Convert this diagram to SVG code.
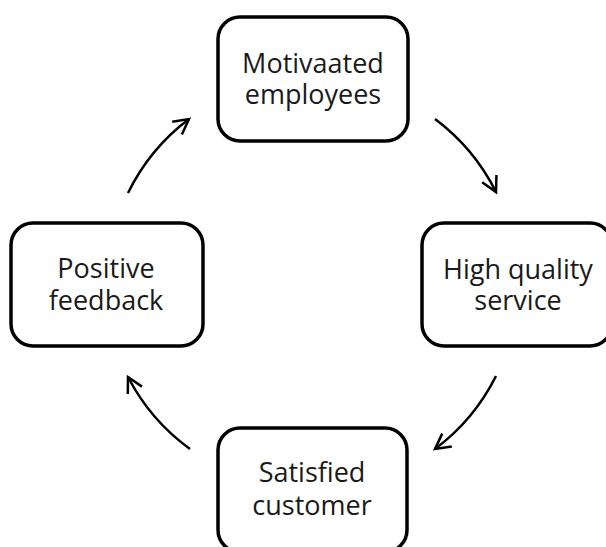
<svg xmlns="http://www.w3.org/2000/svg" width="606" height="547" viewBox="0 0 606 547">
<style>
.box{fill:#fff;stroke:#000;stroke-width:3.5}
.lbl{font-family:"Open Sans","Liberation Sans",sans-serif;font-size:27px;fill:#1a1a1a;text-anchor:middle}
.arc{fill:none;stroke:#000;stroke-width:2.5}
</style>
<defs>
<marker id="ah" markerUnits="userSpaceOnUse" markerWidth="22" markerHeight="22" refX="17" refY="11" orient="auto">
<path d="M2,3 L17,11 L2,19" fill="none" stroke="#000" stroke-width="2.5"/>
</marker>
</defs>
<rect width="606" height="547" fill="#fff"/>
<g id="connectors">
<path class="arc" marker-end="url(#ah)" d="M435,119 A206,206 0 0 1 496,192"/>
<path class="arc" marker-end="url(#ah)" d="M496,376 A206,206 0 0 1 435,449"/>
<path class="arc" marker-end="url(#ah)" d="M190,449 A206,206 0 0 1 128,377"/>
<path class="arc" marker-end="url(#ah)" d="M128,193 A206,206 0 0 1 189,119"/>
</g>
<g id="motivated">
<rect class="box" x="218" y="17" width="190" height="124" rx="22"/>
<text class="lbl" x="313" y="73">Motivaated</text>
<text class="lbl" x="313" y="104">employees</text>
</g>
<g id="quality">
<rect class="box" x="422" y="223" width="190" height="123" rx="22"/>
<text class="lbl" x="518" y="279">High quality</text>
<text class="lbl" x="518" y="310">service</text>
</g>
<g id="satisfied">
<rect class="box" x="218" y="428" width="189" height="124" rx="22"/>
<text class="lbl" x="312" y="482">Satisfied</text>
<text class="lbl" x="312" y="515">customer</text>
</g>
<g id="feedback">
<rect class="box" x="11" y="223" width="192" height="123" rx="22"/>
<text class="lbl" x="106" y="278">Positive</text>
<text class="lbl" x="106" y="310">feedback</text>
</g>
</svg>
